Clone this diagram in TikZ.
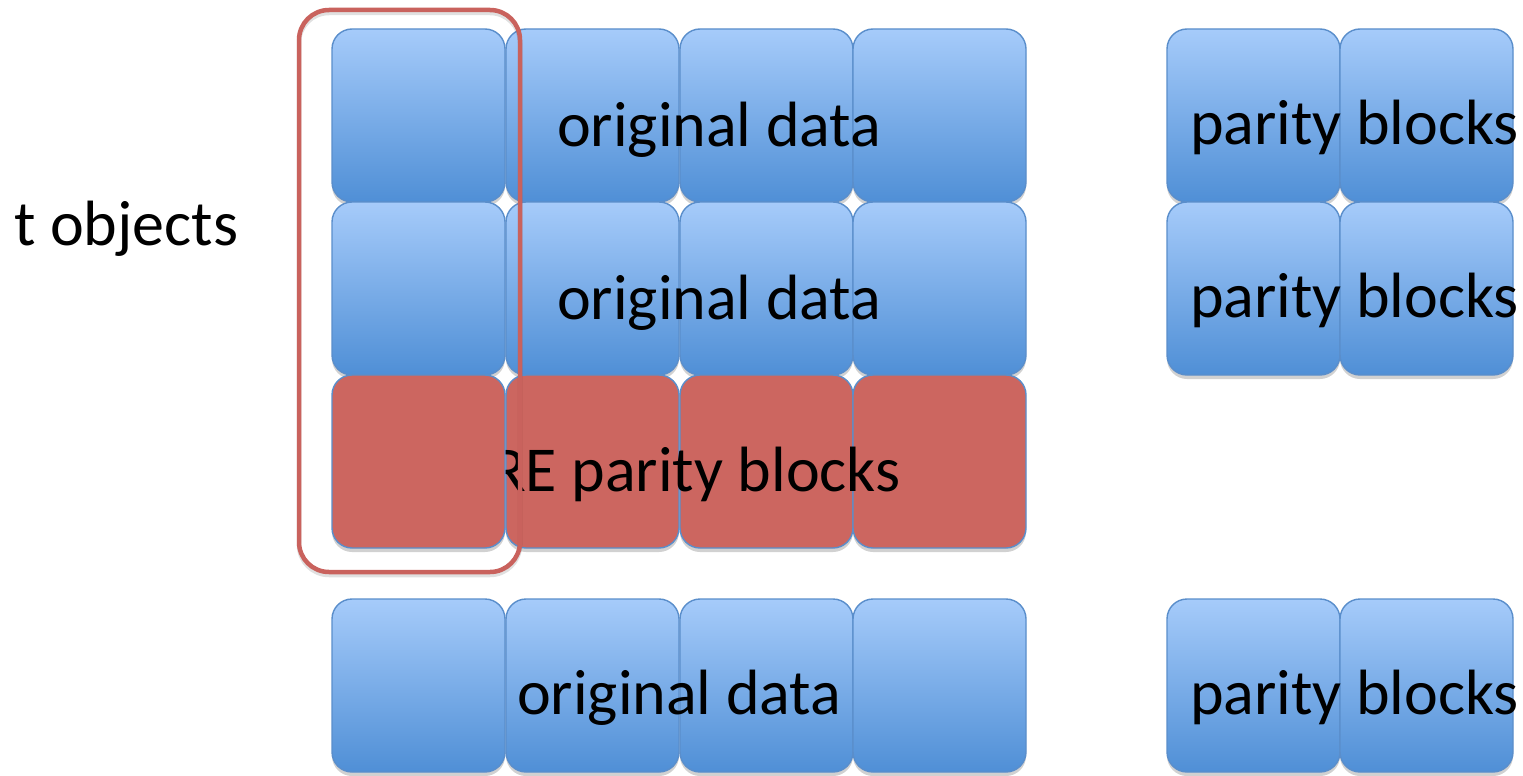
\documentclass[tikz,border=0pt]{standalone}
\usepackage{fontspec}
\setmainfont{Carlito}
\usetikzlibrary{shadows}
\definecolor{btop}{HTML}{A6CBFA}
\definecolor{bbot}{HTML}{4F8FD6}
\definecolor{bline}{HTML}{5A8ECB}
\definecolor{rfill}{HTML}{CC6660}
\definecolor{rframe}{HTML}{C9625D}
\tikzset{
  blkbase/.style={rectangle, minimum width=173pt, minimum height=173pt, inner sep=0pt,
    rounded corners=20pt, draw=bline, line width=1.4pt,
    drop shadow={shadow xshift=0pt, shadow yshift=-4pt, opacity=0.18, fill=black}},
  blk/.style={blkbase, top color=btop, bottom color=bbot},
  pblk/.style={blkbase, fill=rfill},
  lbl/.style={inner sep=0pt, anchor=base west, font=\fontsize{64}{72}\selectfont},
  framebase/.style={rectangle, line width=4.5pt, rounded corners=30pt,
    minimum width=221pt, minimum height=562pt, inner sep=0pt},
  frame/.style={framebase, draw=rframe},
  frameshadow/.style={framebase, draw=black, draw opacity=0.12}
}
\begin{document}
\begin{tikzpicture}[x=1pt,y=-1pt]
\useasboundingbox[fill=white] (0,0) rectangle (1523,776);
% row 1
\node[blk] (a1) at (418.5,115.5) {};
\node[blk] (a2) at (592.5,115.5) {};
\node[blk] (a3) at (766.5,115.5) {};
\node[blk] (a4) at (939.5,115.5) {};
% row 2
\node[blk] (b1) at (418.5,288.5) {};
\node[blk] (b2) at (592.5,288.5) {};
\node[blk] (b3) at (766.5,288.5) {};
\node[blk] (b4) at (939.5,288.5) {};
% row 3 (red)
\node[pblk] (c2) at (592.5,461.5) {};
\node[pblk] (c3) at (766.5,461.5) {};
\node[pblk] (c4) at (939.5,461.5) {};
% bottom row
\node[blk] (d1) at (418.5,685.5) {};
\node[blk] (d2) at (592.5,685.5) {};
\node[blk] (d3) at (766.5,685.5) {};
\node[blk] (d4) at (939.5,685.5) {};
% right parity blocks
\node[blk] (p1) at (1253.5,115.5) {};
\node[blk] (p2) at (1426.5,115.5) {};
\node[blk] (q1) at (1253.5,288.5) {};
\node[blk] (q2) at (1426.5,288.5) {};
\node[blk] (s1) at (1253.5,685.5) {};
\node[blk] (s2) at (1426.5,685.5) {};
% labels
\node[lbl] (la) at (557,146) {original data};
\node[lbl] (lb) at (557,319) {original data};
\node[lbl] (lc) at (491,491) {RE parity blocks};
\node[lbl] (ld) at (517,714) {original data};
\node[lbl] (lp) at (1190,144) {parity blocks};
\node[lbl] (lq) at (1190,317) {parity blocks};
\node[lbl] (ls) at (1190,714) {parity blocks};
\node[lbl] (lt) at (14,245) {t objects};
% first red block on top of its label
\node[pblk] (c1) at (418.5,461.5) {};
% highlight frame
\node[frameshadow] (frs) at (409.5,294) {};
\node[frame] (fr) at (409.5,291) {};
\end{tikzpicture}
\end{document}
